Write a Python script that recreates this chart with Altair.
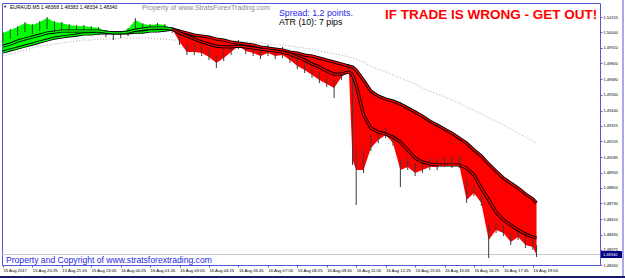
import json
import altair as alt
import pandas as pd

# ---------------- data ----------------
BARS = [0, 4, 8, 12, 16, 20, 24, 28, 32, 36, 40, 44, 48, 52, 56, 60, 64, 68, 72, 76, 80, 84, 88, 92,
        96, 100, 104, 108, 112, 116, 120, 124, 128, 132, 136, 140, 144, 148, 152, 156, 160, 164, 168,
        172, 176, 180, 184, 188, 190, 192, 196, 200, 204, 208, 212, 216, 220, 224, 228, 232, 236, 240,
        244, 248, 252, 256, 260, 264, 268, 272, 276, 280, 284, 288, 290]

PRICE_EDGE = [1.50033, 1.50055, 1.50078, 1.50109, 1.50094, 1.50117, 1.50147, 1.50117, 1.50109, 1.50094,
              1.50086, 1.50086, 1.50078, 1.50071, 1.50048, 1.50033, 1.50040, 1.50063, 1.50132, 1.50101,
              1.50094, 1.50101, 1.50094, 1.50063,
              1.49964, 1.49887, 1.49887, 1.49880, 1.49849, 1.49803, 1.49841, 1.49887, 1.49933, 1.49895,
              1.49880, 1.49857, 1.49880, 1.49857, 1.49864, 1.49826, 1.49780, 1.49750, 1.49712, 1.49673,
              1.49643, 1.49612, 1.49696, 1.49750, 1.49062, 1.48986, 1.48986, 1.49154, 1.49215, 1.49253,
              1.49192, 1.48986, 1.49009, 1.48963, 1.48986, 1.49009, 1.49009, 1.49032, 1.49024, 1.49024,
              1.48757, 1.48810, 1.48734, 1.48451, 1.48527, 1.48504, 1.48436, 1.48474, 1.48413, 1.48397,
              1.48336]

SLOW_MA = [1.49887, 1.49903, 1.49918, 1.49933, 1.49948, 1.49964, 1.49979, 1.49994, 1.50002, 1.50010,
           1.50017, 1.50025, 1.50025, 1.50033, 1.50033, 1.50033, 1.50033, 1.50033, 1.50040, 1.50040,
           1.50048, 1.50048, 1.50055, 1.50063,
           1.50048, 1.50033, 1.50017, 1.50010, 1.50002, 1.49987, 1.49979, 1.49964, 1.49956, 1.49948,
           1.49941, 1.49926, 1.49918, 1.49910, 1.49903, 1.49887, 1.49880, 1.49864, 1.49857, 1.49841,
           1.49826, 1.49811, 1.49796, 1.49780, 1.49773, 1.49750, 1.49673, 1.49589, 1.49551, 1.49528,
           1.49513, 1.49490, 1.49460, 1.49429, 1.49398, 1.49360, 1.49330, 1.49299, 1.49268, 1.49230,
           1.49192, 1.49139, 1.49093, 1.49032, 1.48978, 1.48925, 1.48886, 1.48848, 1.48802, 1.48764,
           1.48734]

FAST_MA = [1.49933, 1.49948, 1.49971, 1.49987, 1.50002, 1.50017, 1.50033, 1.50040, 1.50048, 1.50048,
           1.50048, 1.50048, 1.50048, 1.50048, 1.50040, 1.50033, 1.50033, 1.50040, 1.50055, 1.50063,
           1.50071, 1.50071, 1.50071, 1.50063,
           1.50033, 1.50010, 1.49987, 1.49964, 1.49948, 1.49933, 1.49926, 1.49926, 1.49933, 1.49926,
           1.49918, 1.49910, 1.49903, 1.49895, 1.49887, 1.49872, 1.49849, 1.49826, 1.49796, 1.49773,
           1.49742, 1.49719, 1.49719, 1.49735, 1.49712, 1.49635, 1.49406, 1.49307, 1.49276, 1.49261,
           1.49238, 1.49200, 1.49139, 1.49078, 1.49047, 1.49032, 1.49024, 1.49024, 1.49024, 1.49024,
           1.49001, 1.48948, 1.48848, 1.48757, 1.48665, 1.48604, 1.48566, 1.48527, 1.48497, 1.48474,
           1.48466]

LONG_MA = [1.49857, 1.49872, 1.49887, 1.49903, 1.49918, 1.49933, 1.49941, 1.49948, 1.49956, 1.49964,
           1.49971, 1.49979, 1.49979, 1.49987, 1.49987, 1.49987, 1.49994, 1.49994, 1.49994, 1.49994,
           1.49994, 1.49987, 1.49987, 1.49979,
           1.49979, 1.49979, 1.49979, 1.49971, 1.49971, 1.49971, 1.49971, 1.49971, 1.49971, 1.49964,
           1.49964, 1.49956, 1.49948, 1.49941, 1.49941, 1.49933, 1.49926, 1.49918, 1.49910, 1.49895,
           1.49887, 1.49872, 1.49864, 1.49849, 1.49841, 1.49834, 1.49811, 1.49780, 1.49757, 1.49735,
           1.49712, 1.49689, 1.49666, 1.49643, 1.49612, 1.49589, 1.49566, 1.49544, 1.49521, 1.49498,
           1.49467, 1.49444, 1.49414, 1.49383, 1.49360, 1.49330, 1.49299, 1.49268, 1.49238, 1.49207,
           1.49192]

BAR_HIGH = [1.50040, 1.50063, 1.50086, 1.50117, 1.50101, 1.50124, 1.50155, 1.50124, 1.50117, 1.50101,
            1.50094, 1.50094, 1.50086, 1.50078, 1.50055, 1.50040, 1.50048, 1.50071, 1.50147, 1.50109,
            1.50101, 1.50109, 1.50101, 1.50071,
            1.50025, 1.49948, 1.49948, 1.49941, 1.49910, 1.49864, 1.49903, 1.49948, 1.49979, 1.49956,
            1.49941, 1.49918, 1.49941, 1.49918, 1.49926, 1.49887, 1.49841, 1.49811, 1.49773, 1.49735,
            1.49704, 1.49673, 1.49750, 1.49796, 1.49735, 1.49139, 1.49139, 1.49253, 1.49291, 1.49307,
            1.49253, 1.49062, 1.49078, 1.49039, 1.49055, 1.49078, 1.49078, 1.49093, 1.49085, 1.49093,
            1.48909, 1.48871, 1.48795, 1.48566, 1.48589, 1.48566, 1.48504, 1.48535, 1.48474, 1.48451,
            1.48413]

BAR_LOW = [1.49964, 1.49987, 1.50010, 1.50040, 1.50025, 1.50048, 1.50063, 1.50048, 1.50040, 1.50033,
           1.50025, 1.50033, 1.50025, 1.50017, 1.50002, 1.49979, 1.49994, 1.50010, 1.50055, 1.50040,
           1.50040, 1.50048, 1.50048, 1.50033,
           1.49941, 1.49864, 1.49864, 1.49857, 1.49826, 1.49765, 1.49818, 1.49864, 1.49910, 1.49872,
           1.49857, 1.49834, 1.49857, 1.49834, 1.49841, 1.49803, 1.49757, 1.49727, 1.49689, 1.49650,
           1.49620, 1.49536, 1.49673, 1.49727, 1.49024, 1.48718, 1.48963, 1.49131, 1.49192, 1.49230,
           1.49169, 1.48856, 1.48986, 1.48940, 1.48963, 1.48986, 1.48986, 1.49009, 1.49001, 1.49001,
           1.48734, 1.48787, 1.48711, 1.48313, 1.48504, 1.48482, 1.48413, 1.48451, 1.48390, 1.48375,
           1.48321]

TREND_SWITCH_BAR = 92
LAST_PRICE = 1.48340

TIME_TICKS = list(range(0, 289, 16))
TIME_LABELS = ["15 Aug 2017", "15 Aug 20:25", "15 Aug 21:45", "15 Aug 23:05", "16 Aug 00:25",
               "16 Aug 01:45", "16 Aug 03:05", "16 Aug 04:25", "16 Aug 05:45", "16 Aug 07:05",
               "16 Aug 08:25", "16 Aug 09:45", "16 Aug 11:05", "16 Aug 12:25", "16 Aug 13:45",
               "16 Aug 15:05", "16 Aug 16:25", "16 Aug 17:45", "16 Aug 19:05"]
PRICE_TICKS = [1.50155, 1.50040, 1.49920, 1.49800, 1.49680, 1.49560, 1.49440, 1.49325, 1.49205,
               1.49085, 1.48965, 1.48850, 1.48730, 1.48610, 1.48490, 1.48375, 1.48260]

SYMBOL_TEXT = "EURAUD,M5  1.48368 1.48383 1.48334 1.48340"
WATERMARK = "Property of www.StratsForexTrading.com"
SPREAD_TEXT = "Spread: 1.2 points."
ATR_TEXT = "ATR (10): 7 pips"
WARNING_TEXT = "IF TRADE IS WRONG - GET OUT!"
COPYRIGHT = "Property and Copyright of www.stratsforextrading.com"

# ---------------- tables ----------------
df = pd.DataFrame({"bar": BARS, "edge": PRICE_EDGE, "slow": SLOW_MA, "fast": FAST_MA,
                   "long": LONG_MA, "hi": BAR_HIGH, "lo": BAR_LOW})
up = df[df["bar"] <= TREND_SWITCH_BAR].assign(region="up")
down = df[df["bar"] >= TREND_SWITCH_BAR].assign(region="down")
both = pd.concat([up, down], ignore_index=True)

FRAME = "#5656d8"
FONT = "Liberation Sans"
TOP = 3  # plot area top offset in the page

x_scale = alt.Scale(domain=[-0.5, 324.5], nice=False, zero=False)
y_scale = alt.Scale(domain=[1.48260, 1.50262], nice=False, zero=False)
region_color = alt.Color("region:N", scale=alt.Scale(domain=["up", "down"], range=["#00ff00", "#ff0000"]),
                         legend=None)

x_axis = alt.Axis(values=TIME_TICKS, labelExpr=f"{json.dumps(TIME_LABELS)}[round(datum.value / 16)]",
                  labelAlign="left", labelFontSize=4.2, labelPadding=1, tickSize=2, tickColor=FRAME,
                  domain=False, grid=False, title=None, labelOverlap=False, labelFlush=False,
                  labelColor="#000000", labelFont=FONT)
y_axis = alt.Axis(values=PRICE_TICKS, format=".5f", orient="right", labelFontSize=4, labelPadding=1,
                  tickSize=2, tickColor=FRAME, domain=False, grid=False, title=None, labelOverlap=False,
                  labelAlign="left", labelBaseline="middle", labelColor="#000000", labelFont=FONT)

X = alt.X("bar:Q", scale=x_scale, axis=x_axis)


def Yn(field):
    return alt.Y(f"{field}:Q", scale=y_scale, axis=y_axis, stack=None)


long_ma = alt.Chart(df).mark_line(color="#a8a8a8", strokeWidth=1, strokeDash=[1, 2]).encode(
    x=X, y=Yn("long"))

bid_line = alt.Chart(pd.DataFrame({"p": [LAST_PRICE]})).mark_rule(color="#c8c8c8", strokeWidth=1).encode(
    y=Yn("p"))

fill = alt.Chart(both).mark_area(opacity=1).encode(
    x=X, y=Yn("edge"), y2="slow:Q", color=region_color, detail="region:N")

wicks = alt.Chart(df).mark_rule(color="#3c3c3c", strokeWidth=1).encode(
    x=X, y=Yn("hi"), y2="lo:Q")

layers = [long_ma, bid_line, fill, wicks]
for field in ["slow", "fast"]:
    layers.append(alt.Chart(df).mark_line(color="#000000", strokeWidth=3.2).encode(x=X, y=Yn(field)))
    layers.append(alt.Chart(both).mark_line(strokeWidth=1.3).encode(
        x=X, y=Yn(field), color=region_color, detail="region:N"))

# last price marker on the price scale
last_box = alt.Chart(pd.DataFrame({"p": [LAST_PRICE]})).mark_rule(color="#000080", strokeWidth=7).encode(
    x=alt.value(599), x2=alt.value(620), y=Yn("p"))
last_txt = alt.Chart(pd.DataFrame({"p": [LAST_PRICE], "t": ["1.48340"]})).mark_text(
    color="white", fontSize=4, align="left", baseline="middle", font=FONT).encode(
    x=alt.value(601), y=Yn("p"), text="t:N")
layers += [last_box, last_txt]

# window frame lines (right edge and bottom edge)
frame_right = alt.Chart(pd.DataFrame({"k": [0]})).mark_rule(color=FRAME, strokeWidth=1).encode(
    x=alt.value(621), y=alt.value(-TOP), y2=alt.value(273))
frame_bottom = alt.Chart(pd.DataFrame({"k": [0]})).mark_rule(color="#1a1a6a", strokeWidth=2).encode(
    x=alt.value(-2), x2=alt.value(623), y=alt.value(277 - TOP))
layers += [frame_right, frame_bottom]


def label(text, x, y, size, color, bold=False, align="left"):
    return alt.Chart(pd.DataFrame({"t": [text]})).mark_text(
        fontSize=size, color=color, align=align, baseline="middle", font=FONT,
        fontWeight="bold" if bold else "normal").encode(
        x=alt.value(x - 2), y=alt.value(y - TOP), text="t:N")


layers += [
    label("\u25bc", 3, 7, 4, "#000040"),
    label(SYMBOL_TEXT, 10, 7, 5, "#000000"),
    label(WATERMARK, 142, 8, 7, "#8a8a8a"),
    label(SPREAD_TEXT, 279, 13, 8.8, "#1f1fe6"),
    label(ATR_TEXT, 279, 22, 8.8, "#000000"),
    label(WARNING_TEXT, 385, 15, 13.5, "#ff0000", bold=True),
    label(COPYRIGHT, 6, 260, 8.6, "#1f1fe6"),
]

chart = alt.layer(*layers).properties(
    width=598, height=262,
    autosize=alt.AutoSizeParams(type="none"),
    padding={"left": 2, "top": TOP, "right": 25, "bottom": 13},
    background="white",
).configure_view(stroke=FRAME, strokeWidth=1)

chart.save("out.html", embed_options={"renderer": "svg", "actions": False})
